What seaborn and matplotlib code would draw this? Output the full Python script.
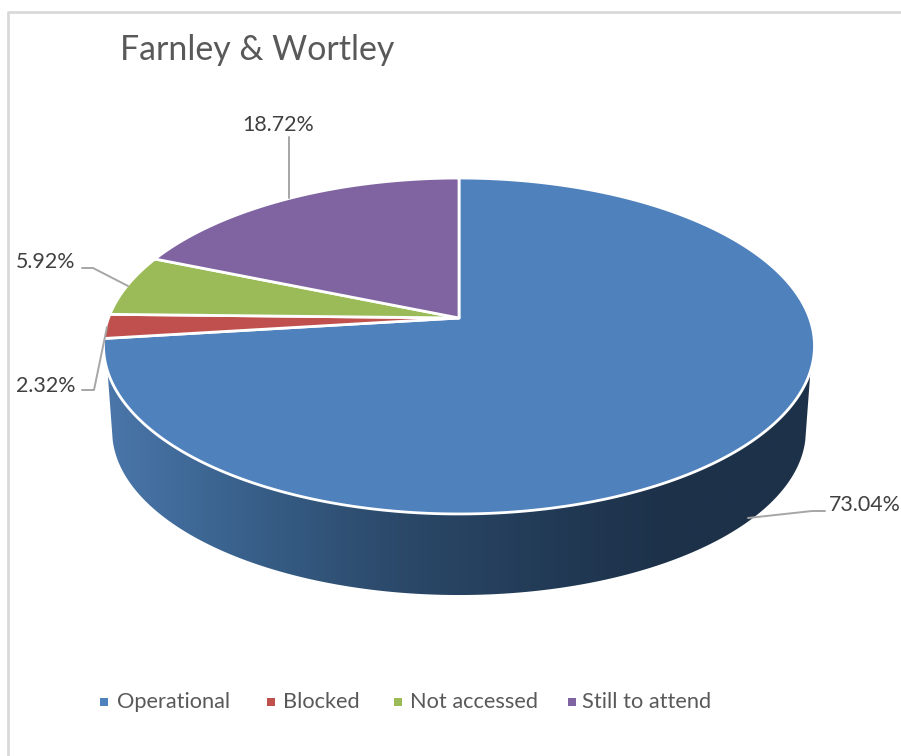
import numpy as np
import seaborn as sns
import matplotlib.pyplot as plt
from matplotlib.patches import Polygon

categories = ["Operational", "Blocked", "Not accessed", "Still to attend"]
shares = [73.04, 2.32, 5.92, 18.72]
slice_colors = ["#4f81bd", "#c0504d", "#9bbb59", "#8064a2"]
wall_colors = ["#4a76aa", "#38608a", "#2c4a6b", "#233c58", "#1d3149", "#1d3149"]
title_text = "Farnley & Wortley"

# pixel layout of the projected pie
CX, APEX_Y = 459, 318
TOP_RX, TOP_RY = 350.5, 163.3
BASE_RX, BASE_RY, BASE_APEX_Y = 342, 159.6, 403.5
TILT = 1 / 6

sns.set_theme(style="white")
plt.rcParams["font.family"] = ["Lato", "DejaVu Sans"]

fig = plt.figure(figsize=(9.01, 7.56), dpi=100)
ax = fig.add_axes([0, 0, 1, 1])
ax.set_xlim(0, 901)
ax.set_ylim(756, 0)
ax.axis("off")


def project(angle, rx, ry, apex_y):
    # angle is clockwise from 12 o'clock, perspective squeezes the far side
    u, v = np.sin(angle), np.cos(angle)
    w = 1 + TILT * v
    return CX + rx * u / w, apex_y - ry * v / w


# chart frame
ax.plot([8, 8, 901], [756, 12, 12], color="#d9d9d9", lw=2)

# side wall with horizontal gradient
theta = np.radians(np.linspace(0, 360, 1441))
top_x, top_y = project(theta, TOP_RX, TOP_RY, APEX_Y)
base_x, base_y = project(theta, BASE_RX, BASE_RY, BASE_APEX_Y)
top_keep, base_keep = top_y > 371, base_y > 440
wall = Polygon(
    np.vstack([
        np.column_stack([top_x[top_keep], top_y[top_keep]]),
        np.column_stack([base_x[base_keep][::-1], base_y[base_keep][::-1]]),
    ]),
    closed=True, facecolor="none", edgecolor="none",
)
ax.add_patch(wall)
cmap = sns.blend_palette(wall_colors, n_colors=256, as_cmap=True)
gradient = ax.imshow(
    np.linspace(0, 1, 256)[None, :], cmap=cmap, aspect="auto",
    extent=(105, 813, 600, 360), zorder=1,
)
gradient.set_clip_path(wall)
ax.set_xlim(0, 901)
ax.set_ylim(756, 0)

# top slices
edges = np.cumsum([0] + shares) / 100 * 2 * np.pi
for start, stop, color in zip(edges[:-1], edges[1:], slice_colors):
    arc = np.linspace(start, stop, 400)
    x, y = project(arc, TOP_RX, TOP_RY, APEX_Y)
    ax.fill(np.r_[CX, x], np.r_[APEX_Y, y], facecolor=color, edgecolor="white",
            lw=2, joinstyle="round", zorder=2)

# data labels and leader lines
leader_paths = [
    ([825, 812, 748], [511, 511, 518]),
    ([82, 94, 107], [390, 390, 327]),
    ([82, 93, 128], [268, 268, 286]),
    ([289, 289], [137, 198]),
]
label_spots = [(829, 505), (16, 386), (16, 262), (242, 125)]
for share, path, spot in zip(shares, leader_paths, label_spots):
    ax.plot(path[0], path[1], color="#a6a6a6", lw=1.4, zorder=3)
    ax.text(spot[0], spot[1], f"{share:.2f}%", color="#404040", fontsize=15.4,
            va="center", ha="left", clip_on=False, zorder=4)

ax.text(120, 50, title_text, color="#595959", fontsize=24.4, va="center", ha="left")

# legend row
marker_x = [104, 271, 398, 572]
text_x = [117, 283, 410, 582]
for name, color, mx, tx in zip(categories, slice_colors, marker_x, text_x):
    ax.scatter([mx], [702], marker="s", s=30, color=color, linewidths=0)
    ax.text(tx, 702, name, color="#595959", fontsize=15.7, va="center", ha="left")

fig.savefig("out.png", dpi=100)
